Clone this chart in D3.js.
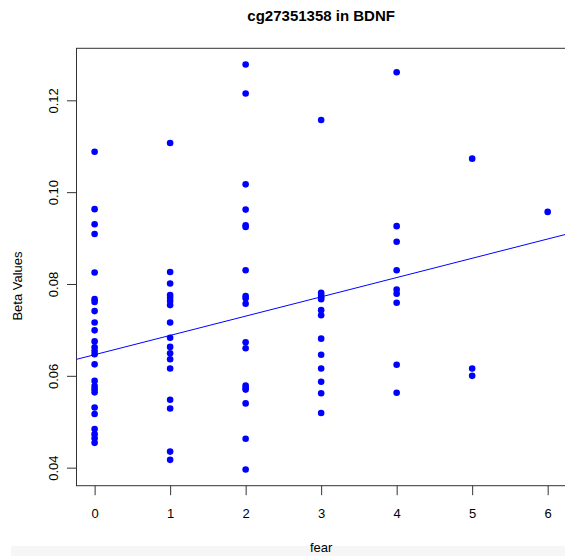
<!DOCTYPE html>
<html>
<head>
<meta charset="UTF-8">
<title>cg27351358 in BDNF</title>
<script src="https://cdn.jsdelivr.net/npm/d3@7"></script>
<style>
    body { margin: 0; background: #fff; }
    text { font-family: "Liberation Sans", Arial, Helvetica, sans-serif; fill: #000; }
    .frame { fill: none; stroke: #333; stroke-width: 1px; }
    .axis path { display: none; }
    .axis line { stroke: #333; }
</style>
</head>
<body>
<svg id="chart" width="565" height="556"></svg>
<script>
    var title = "cg27351358 in BDNF",
        xLabel = "fear",
        yLabel = "Beta Values";

    var xTicks = [0, 1, 2, 3, 4, 5, 6];
    var yTicks = [0.04, 0.06, 0.08, 0.10, 0.12];

    // beta values per fear score
    var beta0 = [0.1088, 0.0963, 0.0930, 0.0909, 0.0825, 0.0767, 0.0761, 0.0741, 0.0716, 0.0699, 0.0675, 0.0662, 0.0654,
        0.0647, 0.0625, 0.0589, 0.0578, 0.0571, 0.0564, 0.0531, 0.0517, 0.0484, 0.0473, 0.0464, 0.0454];
    var beta1 = [0.1107, 0.0826, 0.0801, 0.0776, 0.0770, 0.0763, 0.0754, 0.0716, 0.0683, 0.0663, 0.0649, 0.0636, 0.0616,
        0.0548, 0.0529, 0.0435, 0.0417];
    var beta2 = [0.1278, 0.1215, 0.1017, 0.0962, 0.0928, 0.0924, 0.0830, 0.0774, 0.0769, 0.0757, 0.0673, 0.0660, 0.0579,
        0.0574, 0.0570, 0.0540, 0.0463, 0.0396];
    var beta3 = [0.1157, 0.0781, 0.0776, 0.0771, 0.0767, 0.0743, 0.0732, 0.0681, 0.0646, 0.0616, 0.0587, 0.0562, 0.0519];
    var beta4 = [0.1261, 0.0926, 0.0892, 0.0830, 0.0788, 0.0779, 0.0759, 0.0624, 0.0563];
    var beta5 = [0.1073, 0.0616, 0.0600];
    var beta6 = [0.0957];

    // fitted line (abline of lm)
    var fitIntercept = 0.0646,
        fitSlope = 0.0042;

    var points = [];
    [beta0, beta1, beta2, beta3, beta4, beta5, beta6].forEach(function (vals, i) {
        vals.forEach(function (v) { points.push({ fear: xTicks[i], beta: v }); });
    });

    var svg = d3.select("#chart");
    var plotLeft = 76.5, plotRight = 565.8, plotTop = 48.3, plotBottom = 485.7;

    // R style 4% padding around the data range
    function padded(ext) {
        var p = (ext[1] - ext[0]) * 0.04;
        return [ext[0] - p, ext[1] + p];
    }

    var x = d3.scaleLinear()
        .domain(padded(d3.extent(points, function (d) { return d.fear; })))
        .range([plotLeft, plotRight]);
    var y = d3.scaleLinear()
        .domain(padded(d3.extent(points, function (d) { return d.beta; })))
        .range([plotBottom, plotTop]);

    // light strip at the very bottom
    svg.append("rect")
        .attr("x", 11).attr("y", 546)
        .attr("width", 554).attr("height", 10)
        .attr("fill", "#f6f6f6");

    svg.append("defs").append("clipPath").attr("id", "plotclip")
        .append("rect")
        .attr("x", plotLeft).attr("y", plotTop)
        .attr("width", plotRight - plotLeft).attr("height", plotBottom - plotTop);

    var gx = svg.append("g")
        .attr("class", "axis")
        .attr("transform", "translate(0," + plotBottom + ")")
        .call(d3.axisBottom(x).tickValues(xTicks).tickSize(9.5).tickFormat(d3.format("d")));
    gx.selectAll("text")
        .attr("y", 0).attr("dy", 0)
        .attr("transform", "translate(0,32)")
        .style("font-size", "13px");

    var gy = svg.append("g")
        .attr("class", "axis")
        .attr("transform", "translate(" + plotLeft + ",0)")
        .call(d3.axisLeft(y).tickValues(yTicks).tickSize(9.5).tickFormat(d3.format(".2f")));
    gy.selectAll("text")
        .attr("x", 0).attr("y", -18.5).attr("dy", 0)
        .attr("text-anchor", "middle")
        .attr("transform", "rotate(-90)")
        .style("font-size", "13px");

    var plot = svg.append("g").attr("clip-path", "url(#plotclip)");

    plot.selectAll("circle")
        .data(points)
        .enter().append("circle")
        .attr("cx", function (d) { return x(d.fear); })
        .attr("cy", function (d) { return y(d.beta); })
        .attr("r", 3.3)
        .attr("fill", "blue");

    var xd = x.domain();
    plot.append("line")
        .attr("x1", x(xd[0])).attr("y1", y(fitIntercept + fitSlope * xd[0]))
        .attr("x2", x(xd[1])).attr("y2", y(fitIntercept + fitSlope * xd[1]))
        .attr("stroke", "blue")
        .attr("stroke-width", 1);

    svg.append("rect")
        .attr("class", "frame")
        .attr("x", plotLeft).attr("y", plotTop)
        .attr("width", plotRight - plotLeft).attr("height", plotBottom - plotTop);

    svg.append("text")
        .attr("x", (plotLeft + plotRight) / 2).attr("y", 20.5)
        .attr("text-anchor", "middle")
        .style("font-size", "15px").style("font-weight", "bold")
        .text(title);

    svg.append("text")
        .attr("x", (plotLeft + plotRight) / 2).attr("y", 551.5)
        .attr("text-anchor", "middle")
        .style("font-size", "13px")
        .text(xLabel);

    svg.append("text")
        .attr("transform", "translate(22,286) rotate(-90)")
        .attr("text-anchor", "middle")
        .style("font-size", "13px")
        .text(yLabel);
</script>
</body>
</html>
